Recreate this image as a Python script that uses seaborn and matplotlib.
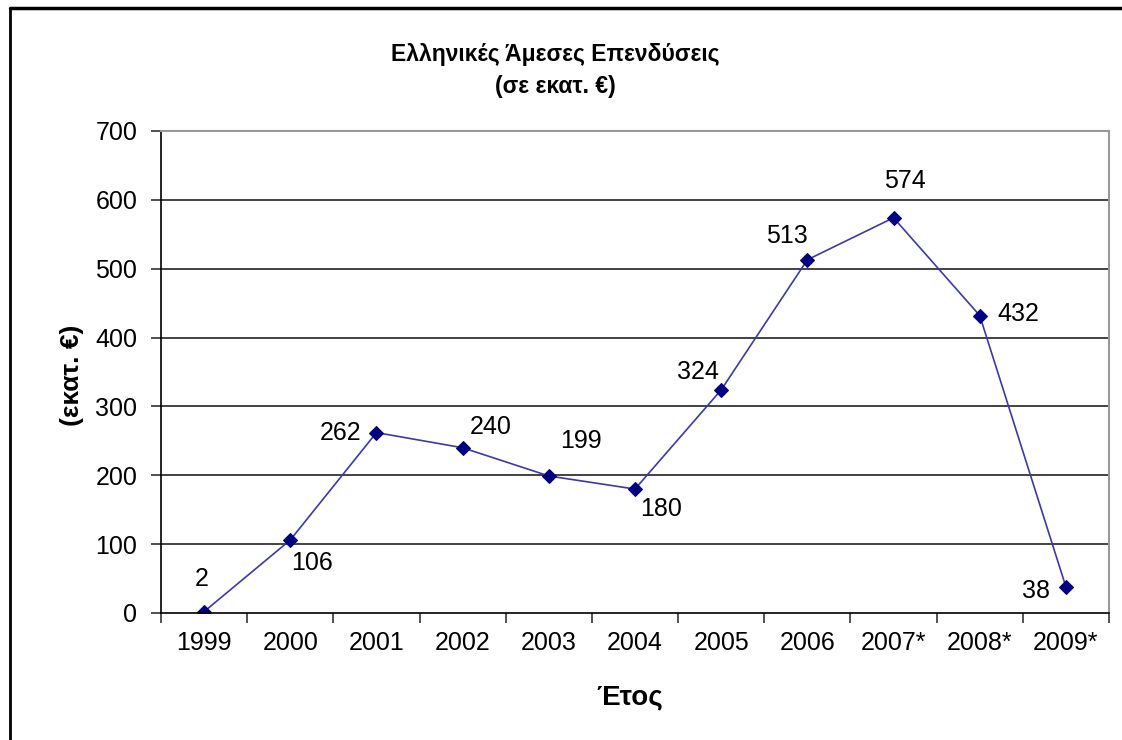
import matplotlib
matplotlib.use("Agg")
import matplotlib.pyplot as plt
import seaborn as sns
import pandas as pd
from matplotlib.lines import Line2D

# δεδομένα
etos = ["1999", "2000", "2001", "2002", "2003", "2004", "2005", "2006", "2007*", "2008*", "2009*"]
poso = [2, 106, 262, 240, 199, 180, 324, 513, 574, 432, 38]
# θέση των ετικετών (σε pixel) σε σχέση με το σημείο
label_dx = [-2, 22, -36, 28, 32, 26, -23, -20, 11, 39, -30]
label_dy = [33, -23, 0, 21, 35, -20, 18, 24, 37, 2, -4]

df = pd.DataFrame({"idx": range(len(etos)), "poso": poso})

sns.set_style("white")
plt.rcParams['font.family'] = ['Liberation Sans', 'DejaVu Sans']
plt.rcParams['text.color'] = 'black'
plt.rcParams['xtick.labelcolor'] = 'black'
plt.rcParams['ytick.labelcolor'] = 'black'

fig = plt.figure(figsize=(11.22, 7.40), dpi=100)
ax = fig.add_axes([161/1122, 1 - 613/740, (1109 - 161)/1122, (613 - 131)/740])

sns.lineplot(data=df, x="idx", y="poso", ax=ax, color="#3a3aa8", linewidth=1.2,
             marker="D", markersize=7, markerfacecolor="#000080", markeredgecolor="#000080")

for i, v in enumerate(poso):
    ax.annotate(str(v), (i, v), xytext=(label_dx[i] * 0.72, label_dy[i] * 0.72),
                textcoords="offset points", ha="center", va="center", fontsize=18, color="black")

ax.set_xlim(-0.5, len(etos) - 0.5)
ax.set_ylim(0, 700)
ax.set_yticks(range(0, 701, 100))
ax.set_xticks([i - 0.5 for i in range(len(etos) + 1)])
ax.set_xticklabels([])
ax.set_xticks(range(len(etos)), minor=True)
ax.set_xticklabels(etos, minor=True, fontsize=18)
ax.tick_params(axis="x", which="major", direction="out", length=7, width=1.2, color="#333333", bottom=True)
ax.tick_params(axis="x", which="minor", length=0, pad=13, labelcolor="black")
ax.tick_params(axis="y", direction="out", length=7, width=1.2, color="#333333", left=True,
               labelsize=18, pad=10, labelcolor="black")

for y in range(100, 700, 100):
    ax.axhline(y, color="#222222", linewidth=1.2, zorder=0)

ax.spines["left"].set_color("black")
ax.spines["bottom"].set_color("black")
ax.spines["left"].set_linewidth(1.2)
ax.spines["bottom"].set_linewidth(1.2)
ax.spines["top"].set_color("#999999")
ax.spines["right"].set_color("#999999")
ax.spines["top"].set_linewidth(1.5)
ax.spines["right"].set_linewidth(1.5)

ax.set_xlabel("")
ax.set_ylabel("")

fig.text(555/1122, 1 - 55/740, "Ελληνικές Άμεσες Επενδύσεις", ha="center", va="center",
         fontsize=16.5, fontweight="bold", color="black")
fig.text(555/1122, 1 - 87/740, "(σε εκατ. €)", ha="center", va="center",
         fontsize=16.5, fontweight="bold", color="black")
fig.text(72/1122, 1 - 375/740, "(εκατ. €)", ha="center", va="center", rotation=90,
         fontsize=19, fontweight="bold", color="black")
fig.text(630/1122, 1 - 697/740, "Έτος", ha="center", va="center",
         fontsize=20, fontweight="bold", color="black")

# πλαίσιο γραφήματος
fig.add_artist(Line2D([10/1122, 10/1122], [0, 1 - 8/740], transform=fig.transFigure, color="black", linewidth=2))
fig.add_artist(Line2D([10/1122, 1], [1 - 8/740, 1 - 8/740], transform=fig.transFigure, color="black", linewidth=2.5))

fig.savefig("out.png", dpi=100)
